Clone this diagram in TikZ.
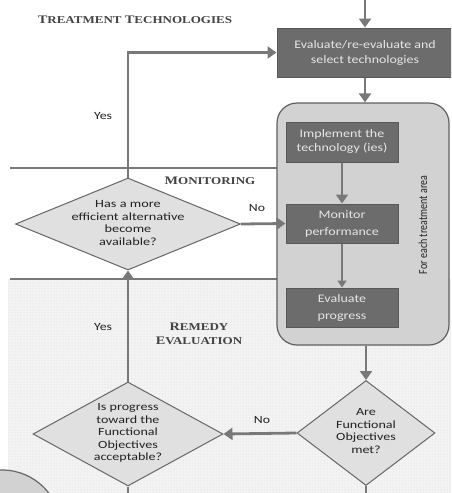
\documentclass[tikz,border=0pt]{standalone}
\usepackage{fontspec}
\setmainfont{Carlito}
\newfontfamily\hdrfont{Liberation Serif}
\usetikzlibrary{arrows.meta,shapes.geometric,patterns}
\definecolor{linegray}{HTML}{787878}
\definecolor{darkbox}{HTML}{6C6C6C}
\definecolor{darkborder}{HTML}{585858}
\definecolor{boxtext}{HTML}{E6E6E6}
\definecolor{panelfill}{HTML}{D2D2D2}
\definecolor{panelborder}{HTML}{606060}
\definecolor{diafill}{HTML}{E0E0E0}
\definecolor{diaborder}{HTML}{666666}
\definecolor{bgdots}{HTML}{F3F3F3}
\definecolor{txt}{HTML}{222222}
\newcommand{\sx}[2][1.25]{\scalebox{#1}[1]{\begin{tabular}{@{}c@{}}#2\end{tabular}}}
\newcommand{\bigini}[1]{{\fontsize{11.5}{12}\selectfont #1}}
\begin{document}
\begin{tikzpicture}[x=1pt,y=-1pt,
  darkstep/.style={draw=darkborder,fill=darkbox,line width=1pt,inner sep=0pt},
  steptext/.style={text=boxtext,inner sep=0pt},
  dia/.style={shape=diamond,draw=diaborder,fill=diafill,line width=1pt,inner sep=0pt},
  diatext/.style={text=txt,inner sep=0pt,font=\fontsize{11}{12.5}\selectfont},
  flow/.style={draw=linegray,line width=2.8pt,-{Triangle[length=9pt,width=12pt]}},
  plainline/.style={draw=linegray,line width=2.8pt},
  sepline/.style={draw=linegray,line width=2.6pt},
  hdr/.style={text=txt!85,inner sep=0pt,font=\hdrfont\bfseries\fontsize{10.5}{12}\selectfont},
  lbl/.style={text=txt,inner sep=0pt,font=\fontsize{11}{12}\selectfont}]
\useasboundingbox (0,0) rectangle (451,493);
\clip (0,0) rectangle (451,493);
% backgrounds
\fill[white] (0,0) rectangle (451,493);
\fill[bgdots] (8,279) rectangle (451,493);
\fill[pattern=dots,pattern color=gray!30] (8,279) rectangle (451,493);
% separator lines
\coordinate (s1a) at (10,168);
\coordinate (s1b) at (280,168);
\coordinate (s2a) at (10,279);
\coordinate (s2b) at (280,279);
\draw[sepline] (s1a) -- (s1b);
\draw[sepline] (s2a) -- (s2b);
% bottom-left circle
\draw[draw=diaborder,fill=panelfill,line width=1.2pt] (2,529) circle (59);
% headers
\node[hdr] (h1) at (135,21) {\sx[1.24]{\bigini{T}REATMENT \bigini{T}ECHNOLOGIES}};
\node[hdr] (h2) at (210,182) {\sx[1.24]{\bigini{M}ONITORING}};
\node[hdr,font=\hdrfont\bfseries\fontsize{10.5}{14}\selectfont] (h3) at (199,335) {\sx[1.24]{\bigini{R}EMEDY\\\bigini{E}VALUATION}};
% top box
\node[darkstep,minimum width=176pt,minimum height=49pt] (sel) at (365,52.5) {};
\node[steptext,font=\fontsize{11.5}{15}\selectfont] (selt) at (sel) {\sx[1.21]{Evaluate/re-evaluate and\\select technologies}};
\coordinate (topin) at (365,0);
\draw[flow] (topin) -- (sel.north);
% panel
\node[draw=panelborder,fill=panelfill,line width=1.2pt,rounded corners=20pt,
  minimum width=172pt,minimum height=242pt,inner sep=0pt] (panel) at (363,224) {};
\node[rotate=90,text=txt,inner sep=0pt,font=\fontsize{10}{12}\selectfont] (each) at (423,225)
  {\scalebox{1}[1.22]{For each treatment area}};
\node[darkstep,minimum width=112pt,minimum height=40pt] (impl) at (342,142) {};
\node[steptext,font=\fontsize{11.5}{13.5}\selectfont] (implt) at (impl) {\sx[1.22]{Implement the\\technology (ies)}};
\node[darkstep,minimum width=112pt,minimum height=39pt] (mon) at (342,223.5) {};
\node[steptext,font=\fontsize{11.5}{16.5}\selectfont] (mont) at (mon) {\sx[1.22]{Monitor\\performance}};
\node[darkstep,minimum width=112pt,minimum height=39pt] (evp) at (342,307.5) {};
\node[steptext,font=\fontsize{11.5}{16.5}\selectfont] (evpt) at (evp) {\sx[1.22]{Evaluate\\progress}};
\draw[flow] (sel.south) -- (sel.south |- panel.north);
\draw[flow] (impl) -- (mon);
\draw[flow,line width=2.2pt,-{Triangle[length=7pt,width=9pt]}] (mon) -- (evp);
% diamonds
\node[dia,minimum width=225pt,minimum height=92pt] (d1) at (128,224) {};
\node[diatext] (d1t) at (128,224) {\sx[1.3]{Has a more\\efficient alternative\\become\\available?}};
\node[dia,minimum width=190pt,minimum height=104pt] (d2) at (128,434) {};
\node[diatext] (d2t) at (128,433) {\sx[1.28]{Is progress\\toward the\\Functional\\Objectives\\acceptable?}};
\node[dia,minimum width=138pt,minimum height=105pt] (d3) at (366,433) {};
\node[diatext] (d3t) at (366,432) {\sx[1.28]{Are\\Functional\\Objectives\\met?}};
% connectors
\draw[flow] (d1.north) |- (sel.west);
\draw[flow] (d1.east) -- (mon.west);
\draw[flow] (panel.south -| d3.north) -- (d3.north);
\draw[flow] (d3.west) -- (d2.east);
\draw[flow] (d2.north) -- (d1.south);
\coordinate (d2out) at (128,500);
\coordinate (d3out) at (366,500);
\draw[plainline] (d2.south) -- (d2out);
\draw[plainline] (d3.south) -- (d3out);
% labels
\node[lbl] (y1) at (103,117) {\sx{Yes}};
\node[lbl] (n1) at (257,209) {\sx{No}};
\node[lbl] (y2) at (103,328) {\sx{Yes}};
\node[lbl] (n2) at (262,421) {\sx{No}};
\end{tikzpicture}
\end{document}
